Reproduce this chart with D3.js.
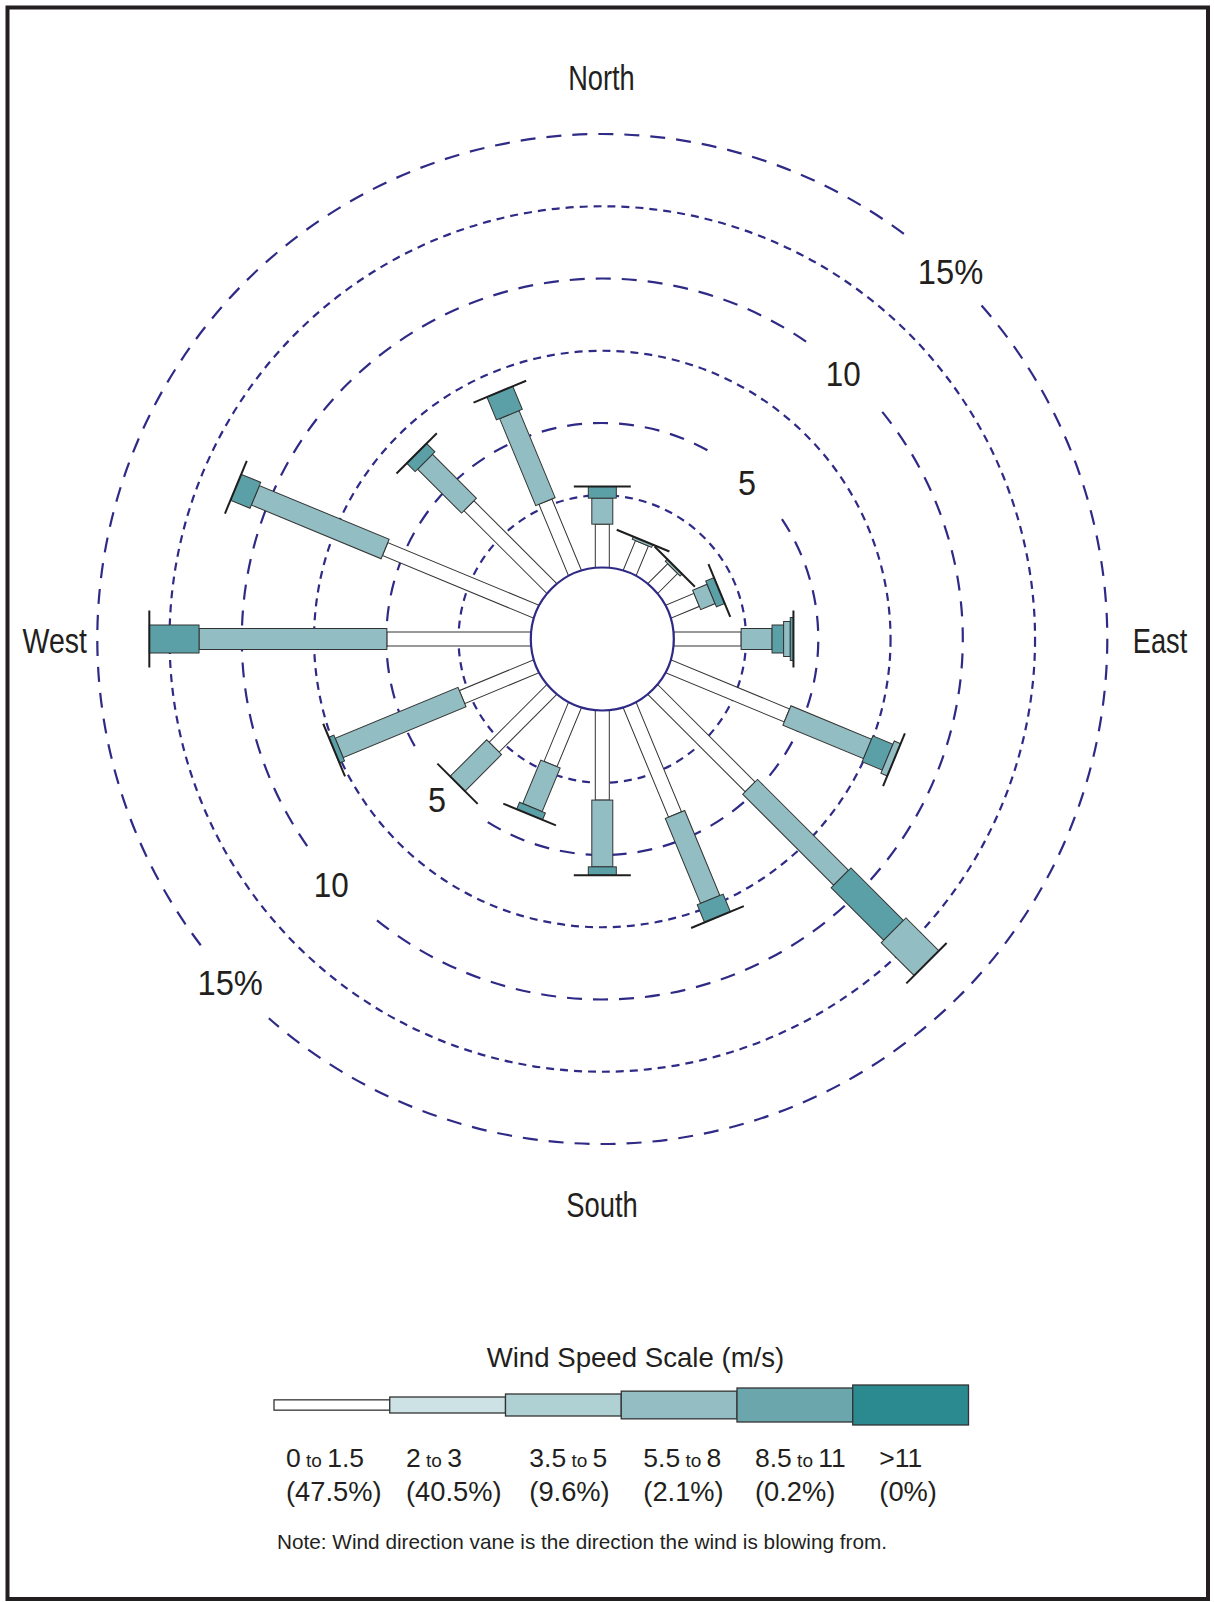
<!DOCTYPE html>
<html><head><meta charset="utf-8">
<script src="https://cdn.jsdelivr.net/npm/d3@7"></script>
<style>body{margin:0;background:#fff} svg{display:block}</style>
</head><body>
<svg id="chart" width="1214" height="1602"></svg>
<script>
// ---------------- DATA ----------------
const directions = ["N","NNE","NE","ENE","E","ESE","SE","SSE","S","SSW","SW","WSW","W","WNW","NW","NNW"];
// frequency (%) of each wind-speed class per direction
const speedClass1 = [1.50,1.11,0.97,1.06,2.33,4.44,4.76,4.10,3.10,2.21,2.82,2.78,4.98,5.66,4.05,2.67];
const speedClass2 = [0.90,0.10,0.10,0.54,1.07,3.02,4.45,3.18,2.31,1.63,1.79,4.60,6.50,4.86,2.15,3.26];
const speedClass3 = [0.40,0.00,0.00,0.31,0.40,0.75,2.57,0.66,0.29,0.26,0.00,0.19,1.72,0.73,0.41,0.86];
const speedClass4 = [0.00,0.00,0.00,0.00,0.23,0.24,1.61,0.00,0.00,0.00,0.00,0.00,0.00,0.00,0.00,0.00];
const speedClass5 = [0.00,0.00,0.00,0.00,0.11,0.00,0.00,0.00,0.00,0.00,0.00,0.00,0.00,0.00,0.00,0.00];
const ringValues = [2.5,5,7.5,10,12.5,15];
const ringLabels = ["5","10","15%"];
const ringLabelValues = [5,10,15];
const compassLabels = ["North","East","South","West"];
const legendLow = ["0","2","3.5","5.5","8.5",">11"];
const legendHigh = ["1.5","3","5","8","11",""];
const legendPct = ["(47.5%)","(40.5%)","(9.6%)","(2.1%)","(0.2%)","(0%)"];
const legendTitle = "Wind Speed Scale (m/s)";
const noteText = "Note: Wind direction vane is the direction the wind is blowing from.";

// ---------------- LAYOUT ----------------
const svg = d3.select("#chart");
const W = 1214, H = 1602;
const cx = 602.3, cy = 639;
const ringColor = "#2e2a86";
const FONT = "'Liberation Sans', Arial, Helvetica, sans-serif";

svg.append("rect").attr("width",W).attr("height",H).attr("fill","#fff");
svg.append("rect").attr("x",7.5).attr("y",7.5).attr("width",1200.5).attr("height",1591.5)
  .attr("fill","none").attr("stroke","#231f20").attr("stroke-width",4);

const r = d3.scaleLinear().domain([0,15]).range([71.5,505]);
const ang = d3.scaleLinear().domain([0,directions.length]).range([0,360]);
const toRad = d => (d-90)*Math.PI/180;

// rings
const gapAngles = [43,227];
const gRings = svg.append("g");
ringValues.forEach(v=>{
  const rr = r(v);
  const long = (v % 5 === 0);
  const p = d3.path();
  if(long){
    const h = (50/rr)*180/Math.PI;
    const a = gapAngles;
    p.moveTo(cx+rr*Math.cos(toRad(a[0]+h)), cy+rr*Math.sin(toRad(a[0]+h)));
    p.arc(cx,cy,rr,toRad(a[0]+h),toRad(a[1]-h));
    p.moveTo(cx+rr*Math.cos(toRad(a[1]+h)), cy+rr*Math.sin(toRad(a[1]+h)));
    p.arc(cx,cy,rr,toRad(a[1]+h),toRad(360+a[0]-h));
  } else {
    p.moveTo(cx+rr, cy);
    p.arc(cx,cy,rr,0,2*Math.PI);
  }
  gRings.append("path").attr("d",p.toString()).attr("fill","none")
    .attr("stroke",ringColor).attr("stroke-width",2.2)
    .attr("stroke-dasharray", long ? "15,11" : "8,6");
});

// text helper: fit text to a width, positioned by center x & baseline
function fitText(g, txt, xc, yb, size, width){
  return g.append("text").attr("x",xc-width/2).attr("y",yb).text(txt)
    .attr("font-family",FONT).attr("font-size",size).attr("fill","#231f20")
    .attr("textLength",width).attr("lengthAdjust","spacingAndGlyphs");
}

// ring labels: placed in the ring gaps (angle in degrees from north, radial offset from ring)
const gLab = svg.append("g");
const ringLabelWidths = [18,35,65.5];
const labelPlace = [
  [[42.7,-2.5],[225.8,14.5]],
  [[42.25,-2.3],[227.8,5.4]],
  [[43.5,1],[227.3,1.3]]
];
ringLabels.forEach((t,i)=>{
  labelPlace[i].forEach(([a,off])=>{
    const rr = r(ringLabelValues[i]) + off;
    const x = cx + rr*Math.sin(a*Math.PI/180);
    const y = cy - rr*Math.cos(a*Math.PI/180);
    fitText(gLab, t, x, y+12.5, 35, ringLabelWidths[i]);
  });
});

// compass labels
const compassPos = [[601.4,89.5,66.5],[1160,653,54.5],[602,1217,71.5],[54.7,653,64.4]];
compassLabels.forEach((t,i)=>{
  const p = compassPos[i];
  fitText(gLab, t, p[0], p[1], 35, p[2]);
});

// bars
const classes = [speedClass1,speedClass2,speedClass3,speedClass4,speedClass5];
const segW = [14,21,28,35,43];
const segColor = ["#ffffff","#92bdc2","#5aa0a6","#92bdc2","#5aa0a6"];
const gBars = svg.append("g");
directions.forEach((d,i)=>{
  let cum = 0;
  const segs = classes.map((c,k)=>{const s = cum; cum += c[i]; return {k, s, e:cum, v:c[i]};}).filter(s=>s.v>0);
  const g = gBars.append("g").attr("transform",`translate(${cx},${cy}) rotate(${ang(i)})`);
  g.selectAll("rect").data(segs).join("rect")
    .attr("x",s=>-segW[s.k]/2).attr("width",s=>segW[s.k])
    .attr("y",s=>-r(s.e)).attr("height",s=>r(s.e)-r(s.s))
    .attr("fill",s=>segColor[s.k]).attr("stroke","#333").attr("stroke-width",1);
  g.append("line").attr("x1",-28.5).attr("x2",28.5).attr("y1",-r(cum)).attr("y2",-r(cum))
    .attr("stroke","#1e1e1e").attr("stroke-width",2);
});

// inner circle
svg.append("circle").attr("cx",cx).attr("cy",cy).attr("r",r(0))
  .attr("fill","#fff").attr("stroke",ringColor).attr("stroke-width",2.2);

// ---------------- LEGEND ----------------
const gL = svg.append("g");
fitText(gL, legendTitle, 635.5, 1366.7, 27.5, 297.6);
const lx = d3.scaleBand().domain(d3.range(6)).range([274,968.5]).padding(0);
const legH = [10.3,16,22,27.7,34,40];
const legColor = ["#ffffff","#cde2e4","#afd1d3","#93bdc2","#6aa6ac","#2a8a8f"];
gL.selectAll("rect.leg").data(d3.range(6)).join("rect").attr("class","leg")
  .attr("x",k=>lx(k)).attr("width",lx.bandwidth())
  .attr("y",k=>1405-legH[k]/2).attr("height",k=>legH[k])
  .attr("fill",k=>legColor[k]).attr("stroke","#333").attr("stroke-width",1.3);
const legTextX = [286,406,529.3,643.3,755,879.3];
legendLow.forEach((lo,k)=>{
  const t = gL.append("text").attr("x",legTextX[k]).attr("y",1467.3)
    .attr("font-family",FONT).attr("font-size",26.5).attr("fill","#231f20")
    .attr("xml:space","preserve").style("white-space","pre");
  if(legendHigh[k]){
    t.append("tspan").text(lo);
    t.append("tspan").attr("font-size",19).text(" to ");
    t.append("tspan").text(legendHigh[k]);
  } else {
    t.text(lo);
  }
  gL.append("text").attr("x",legTextX[k]).attr("y",1501)
    .attr("font-family",FONT).attr("font-size",27.3).attr("fill","#231f20").text(legendPct[k]);
});
gL.append("text").attr("x",277).attr("y",1549).attr("font-family",FONT).attr("font-size",20.7)
  .attr("fill","#231f20").attr("textLength",610).attr("lengthAdjust","spacingAndGlyphs").text(noteText);
</script>
</body></html>
